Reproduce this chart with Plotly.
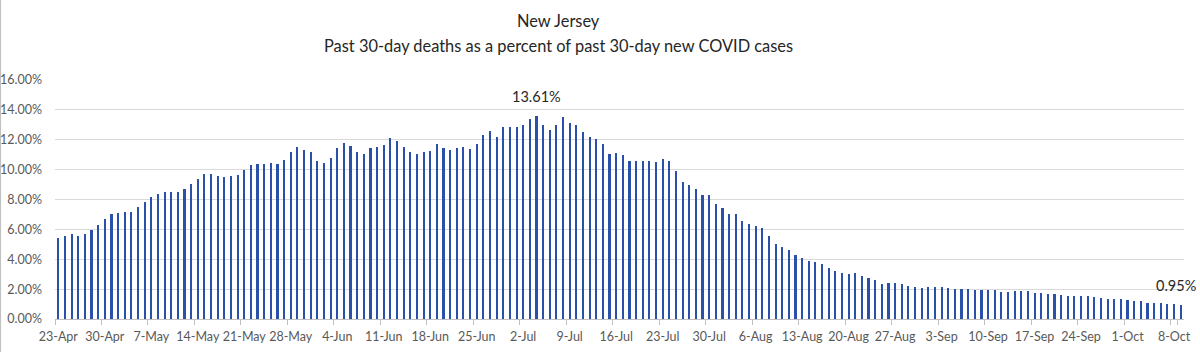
import pandas as pd
import plotly.graph_objects as go

# ---- data ----
start_date = "2020-04-23"
pct_values = [
    5.44, 5.58, 5.71, 5.58, 5.71, 5.98, 6.27, 6.67, 7.02, 7.09, 7.16, 7.16, 7.49, 7.84,
    8.18, 8.40, 8.47, 8.47, 8.53, 8.73, 9.02, 9.36, 9.69, 9.69, 9.56, 9.49, 9.58, 9.64,
    9.98, 10.33, 10.40, 10.40, 10.47, 10.40, 10.67, 11.16, 11.51, 11.29, 11.16, 10.60, 10.47, 10.76,
    11.42, 11.78, 11.56, 11.20, 11.02, 11.42, 11.51, 11.64, 12.13, 11.91, 11.51, 11.16, 11.02, 11.16,
    11.22, 11.69, 11.42, 11.29, 11.42, 11.49, 11.36, 11.69, 12.33, 12.60, 12.20, 12.87, 12.87, 12.87,
    13.02, 13.42, 13.61, 13.02, 12.67, 13.02, 13.49, 13.13, 13.00, 12.51, 12.18, 12.07, 11.69, 11.02,
    11.09, 10.96, 10.60, 10.60, 10.60, 10.60, 10.53, 10.73, 10.60, 9.93, 9.16, 8.96, 8.69, 8.33,
    8.27, 7.71, 7.44, 7.02, 7.02, 6.56, 6.33, 6.20, 6.07, 5.58, 5.02, 4.82, 4.62, 4.29,
    4.07, 3.87, 3.80, 3.67, 3.44, 3.24, 3.11, 3.04, 3.11, 2.89, 2.76, 2.62, 2.36, 2.42,
    2.42, 2.36, 2.22, 2.16, 2.09, 2.16, 2.16, 2.16, 2.07, 2.02, 2.02, 2.02, 1.96, 1.96, 1.96,
    1.96, 1.84, 1.80, 1.87, 1.87, 1.87, 1.73, 1.73, 1.67, 1.67, 1.60, 1.51, 1.53, 1.53,
    1.53, 1.47, 1.40, 1.33, 1.33, 1.33, 1.24, 1.18, 1.18, 1.04, 1.04, 1.04, 0.98, 0.98, 0.95,
]
dates = pd.date_range(start_date, periods=len(pct_values), freq="D")
categories = [f"{d.day}-{d.strftime('%b')}" for d in dates]
tick_labels = categories[::7]
y_tick_values = [0, 2, 4, 6, 8, 10, 12, 14, 16]
title_line1 = "New Jersey"
title_line2 = "Past 30-day deaths as a percent of past 30-day new COVID cases"

# ---- figure ----
FONT = "Lato"
fig = go.Figure()
fig.add_trace(go.Bar(
    x=categories, y=pct_values,
    width=0.32,
    marker=dict(color="#2B50AA", line=dict(width=0)),
    hoverinfo="x+y",
))

peak_idx = max(range(len(pct_values)), key=lambda i: pct_values[i])
last_idx = len(pct_values) - 1
for idx, xs in [(peak_idx, 0), (last_idx, -5)]:
    fig.add_annotation(
        x=categories[idx], y=pct_values[idx],
        text=f"{pct_values[idx]:.2f}%",
        showarrow=False, yanchor="bottom", yshift=9, xshift=xs,
        font=dict(family=FONT, size=14.5, color="#262626"),
    )

plot_l, plot_r = 55, 1184
pw = plot_r - plot_l
title_x = (558 - plot_l) / pw
fig.add_annotation(xref="paper", yref="paper", x=title_x, y=(319 - 20) / 239,
                   text=title_line1, showarrow=False, xanchor="center", yanchor="middle",
                   font=dict(family=FONT, size=16.4, color="#262626"))
fig.add_annotation(xref="paper", yref="paper", x=title_x, y=(319 - 46) / 239,
                   text=title_line2, showarrow=False, xanchor="center", yanchor="middle",
                   font=dict(family=FONT, size=16.4, color="#262626"))

fig.add_shape(type="line", xref="paper", yref="paper",
              x0=-plot_l / pw + 0.0005, x1=-plot_l / pw + 0.0005,
              y0=-33 / 239, y1=(319) / 239,
              line=dict(color="#BDBDBD", width=1))

fig.update_layout(
    width=1200, height=352,
    margin=dict(l=plot_l, r=1200 - plot_r, t=80, b=33),
    paper_bgcolor="white", plot_bgcolor="white",
    showlegend=False,
    bargap=0,
    font=dict(family=FONT, size=12, color="#595959"),
)
fig.update_xaxes(
    type="category", automargin=False,
    categoryorder="array", categoryarray=categories,
    range=[-0.5, len(categories) - 0.5],
    tickmode="array", tickvals=tick_labels, ticktext=tick_labels,
    tickson="boundaries",
    ticks="outside", ticklen=5, tickcolor="#BFBFBF",
    showline=True, linecolor="#BFBFBF", linewidth=1,
    showgrid=False, tickangle=0,
    ticklabelstandoff=6,
    tickfont=dict(family=FONT, size=12.5, color="#595959"),
)
fig.update_yaxes(
    range=[0, 16], automargin=False,
    tickmode="array", tickvals=y_tick_values,
    ticktext=[f"{v:.2f}%" for v in y_tick_values],
    showgrid=True, gridcolor="#D9D9D9", gridwidth=1,
    zeroline=False, showline=False,
    ticks="", ticklabelstandoff=12,
    tickfont=dict(family=FONT, size=12.5, color="#595959"),
)

fig.write_html("out.html")
